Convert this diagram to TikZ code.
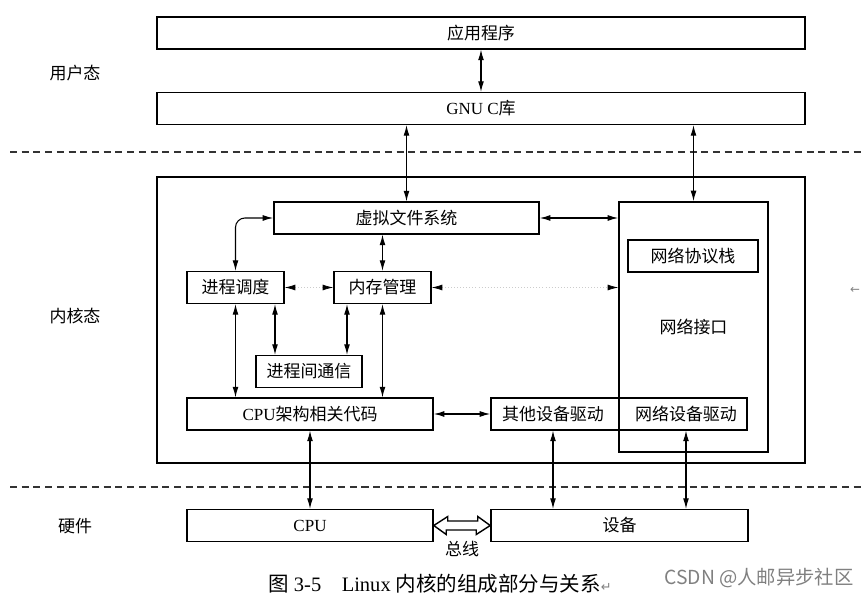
\documentclass[tikz,border=0pt]{standalone}
\usepackage{fontspec}
\setmainfont{Liberation Serif}
\newfontfamily\cjk{Noto Sans CJK SC}
\newfontfamily\sym{DejaVu Sans}
\usetikzlibrary{arrows.meta}

\begin{document}
\begin{tikzpicture}[x=0.03cm,y=-0.03cm,
    box/.style={draw,line width=1.3pt,inner sep=0pt,minimum height=0.95cm,font=\cjk\fontsize{14.5}{16}\selectfont},
    lbl/.style={font=\cjk\fontsize{14.5}{16}\selectfont},
    arr/.style={line width=0.9pt,{Latex[length=9pt,width=5pt]}-{Latex[length=9pt,width=5pt]}},
    faint/.style={draw=gray!40,dotted,line width=0.6pt,{Latex[length=9pt,width=5pt,black]}-{Latex[length=9pt,width=5pt,black]}},
    sep/.style={line width=1.3pt,dash pattern=on 6pt off 4pt,draw=black!80}]
  \useasboundingbox (0,0) rectangle (862,599);
  % layers on the left
  \node[lbl] (user) at (75,73) {用户态};
  \node[lbl] (kern) at (75,316) {内核态};
  \node[lbl] (hw) at (75,526) {硬件};
  % user space
  \node[box,minimum width=19.44cm] (app) at (481,33) {应用程序};
  \node[box,minimum width=19.44cm] (glibc) at (481,108.5) {{\rmfamily GNU C}库};
  \draw[sep] (10,152) -- (862,152);
  % kernel
  \draw[line width=1.3pt] (157,177) rectangle (805,463);
  \node[box,minimum width=7.95cm] (vfs) at (406.5,218) {虚拟文件系统};
  \node[box,minimum width=4.47cm,minimum height=7.5cm] (netif) at (693.5,327) {网络接口};
  \node[box,minimum width=3.9cm] (stack) at (693,256) {网络协议栈};
  \node[box,minimum width=2.91cm] (sched) at (235.5,287.5) {进程调度};
  \node[box,minimum width=2.91cm] (mem) at (382.5,287.5) {内存管理};
  \node[box,minimum width=3.18cm] (ipc) at (309,371.5) {进程间通信};
  \node[box,minimum width=7.38cm] (arch) at (310,414) {{\rmfamily CPU}架构相关代码};
  \node[box,minimum width=7.68cm] (drv) at (619,414) {};
  \node[lbl] (other) at (553,414) {其他设备驱动};
  \node[lbl] (netdrv) at (686,414) {网络设备驱动};
  \draw[sep] (10,487) -- (862,487);
  % hardware
  \node[box,minimum width=7.38cm] (cpu) at (310,525.5) {{\rmfamily CPU}};
  \node[box,minimum width=7.71cm] (dev) at (619.5,525.5) {设备};
  \node[lbl] (bus) at (462,549) {总线};
  \draw[line width=1.2pt] (cpu.east) -- ++(14,-9) -- ++(0,4.5) -- ++(30,0) -- ++(0,-4.5) -- (dev.west)
    -- ++(-14,9) -- ++(0,-4.5) -- ++(-30,0) -- ++(0,4.5) -- cycle;
  % connectors
  \coordinate (c275) at (275,0);
  \coordinate (c347) at (347,0);
  \draw[arr] (app) -- (glibc);
  \draw[arr] (glibc.south -| vfs.north) -- (vfs.north);
  \draw[arr] (glibc.south -| netif.north) -- (netif.north);
  \draw[arr,rounded corners=8pt] (vfs.west) -| (sched.north);
  \draw[arr] (vfs.south -| mem.north) -- (mem.north);
  \draw[arr] (vfs.east) -- (vfs.east -| netif.west);
  \draw[faint] (sched) -- (mem);
  \draw[faint] (mem) -- (mem.east -| netif.west);
  \draw[arr] (sched.south) -- (sched.south |- arch.north);
  \draw[arr] (sched.south -| c275) -- (ipc.north -| c275);
  \draw[arr] (mem.south -| c347) -- (ipc.north -| c347);
  \draw[arr] (mem.south) -- (mem.south |- arch.north);
  \draw[arr] (arch) -- (drv);
  \draw[arr] (arch.south) -- (cpu.north);
  \draw[arr] (drv.south -| other) -- (dev.north -| other);
  \draw[arr] (drv.south -| netdrv) -- (dev.north -| netdrv);
  % caption
  \node[font=\fontsize{17.5}{19}\selectfont] (cap) at (440,584) {{\cjk 图} 3-5\quad Linux {\cjk 内核的组成部分与关系}{\sym\fontsize{11}{12}\selectfont\color{gray}↵}};
  \node[font=\cjk\fontsize{16.5}{18}\selectfont,text=gray] (mark) at (759,578) {CSDN @人邮异步社区};
  \node[font=\sym\fontsize{10}{12}\selectfont,text=gray] (ret) at (855,290) {←};
\end{tikzpicture}
\end{document}
